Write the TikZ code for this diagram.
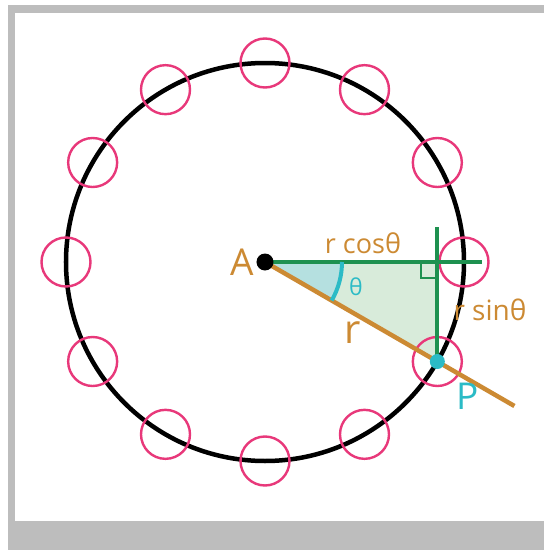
\documentclass[tikz,border=0pt]{standalone}
\usepackage{fontspec}
\setmainfont{Open Sans}
\usetikzlibrary{calc}
\definecolor{rope}{HTML}{CC8A33}
\definecolor{leg}{HTML}{1E9150}
\definecolor{tealp}{HTML}{2BBBC6}
\definecolor{seat}{HTML}{E8387A}
\definecolor{frame}{HTML}{BDBDBD}
\definecolor{trifill}{HTML}{D8EBDA}
\definecolor{secfill}{HTML}{B5E0E0}

\begin{document}
\begin{tikzpicture}[
      x=1pt, y=1pt,
      wheel/.style={line width=4.5pt, black},
      seatring/.style={line width=2.4pt, seat},
      legline/.style={line width=4pt, leg},
      ropeline/.style={line width=4.5pt, rope},
      anglearc/.style={line width=4pt, tealp},
      dotnode/.style={circle, inner sep=0pt, minimum size=#1},
      lbl/.style={text=rope, inner sep=0pt}
    ]
      % frame
      \useasboundingbox (-265,262) rectangle (279,-288);
      \fill[white] (-265,262) rectangle (279,-288);
      \fill[frame] (-257,257) rectangle (279,-288);
      \fill[white] (-250,249) rectangle (279,-259);

      \coordinate (A) at (0,0);
      \coordinate (P) at (-30:199);
      \coordinate (F) at (P |- A);
      \coordinate (hend) at (217,0);
      \coordinate (vtop) at (P |- 0,35);
      \coordinate (rend) at (-30:288);

      % triangle and angle sector
      \fill[trifill] (A) -- (F) -- (P) -- cycle;
      \fill[secfill] (A) -- (0:77) arc[start angle=0, end angle=-30, radius=77] -- cycle;

      \draw[wheel] (A) circle[radius=199];
      \foreach \k in {0,...,11}
        \draw[seatring] (\k*30:199) circle[radius=24.5];

      \draw[legline] (A) -- (hend);
      \draw[legline] (vtop) -- (P);
      \draw[line width=1.8pt, leg] ($(F)+(-16,0)$) |- ($(F)+(0,-16)$);
      \draw[ropeline] (A) -- (rend);
      \draw[anglearc] (0:77) arc[start angle=0, end angle=-30, radius=77];

      \node[dotnode=17pt, fill=black] (hub) at (A) {};
      \node[dotnode=15pt, fill=tealp] (seatP) at (P) {};

      \node[lbl, font=\fontsize{37}{37}\selectfont, anchor=east] (labA) at (-11,0) {A};
      \node[lbl, text=tealp, font=\fontsize{37}{37}\selectfont] (labP) at (203,-134) {P};
      \node[lbl, font=\fontsize{27}{27}\selectfont] (labcos) at (98,19) {r cosθ};
      \node[lbl, text=tealp, font=\fontsize{23}{23}\selectfont] (labth) at (91,-25) {θ};
      \node[lbl, font=\fontsize{40}{40}\selectfont] (labr) at (88,-71) {r};
      \node[lbl, font=\fontsize{28}{28}\selectfont] (labsin) at (225,-48) {r sinθ};
    \end{tikzpicture}
\end{document}
